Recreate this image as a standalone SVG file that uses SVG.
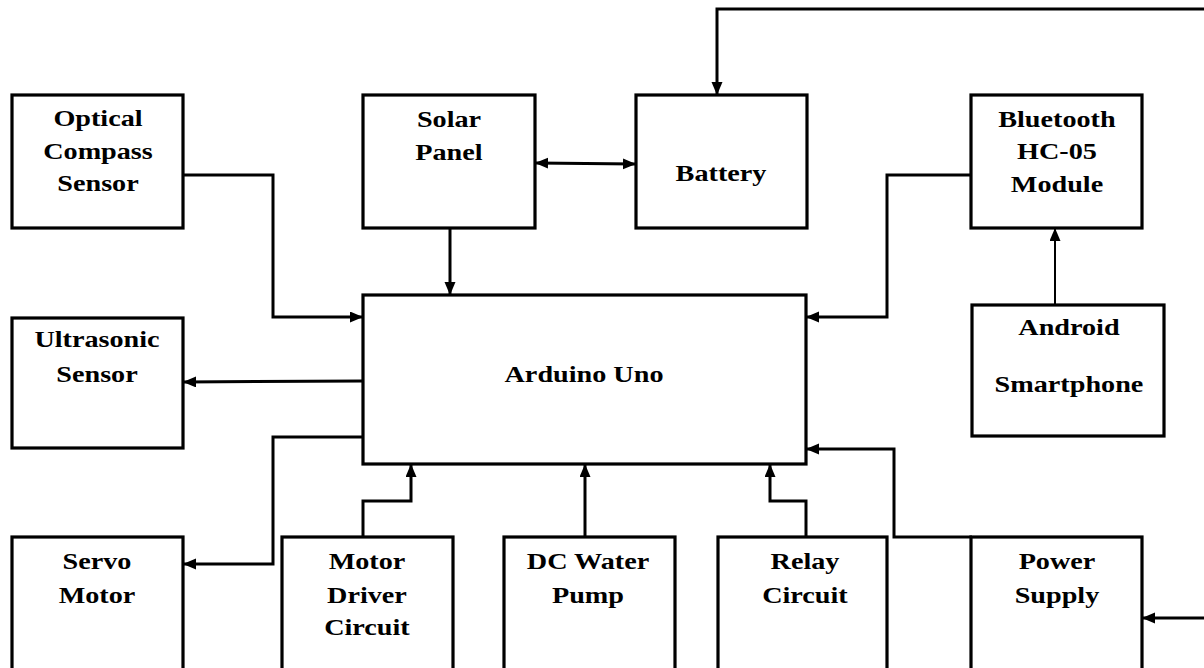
<svg xmlns="http://www.w3.org/2000/svg" width="1204" height="668" viewBox="0 0 1204 668">
<defs>
<style>
.box{fill:#fff;stroke:#000;stroke-width:3.2}
.c{fill:none;stroke:#000;stroke-width:3;marker-end:url(#ah)}
.t{font-family:"Liberation Serif","Times New Roman",serif;font-weight:bold;font-size:23.5px;text-anchor:middle;fill:#000;transform-box:fill-box;transform-origin:center;transform:scaleX(1.2)}
</style>
<marker id="ah" markerUnits="userSpaceOnUse" markerWidth="14" markerHeight="12" refX="12" refY="5.5" orient="auto-start-reverse">
<path d="M0,0 L13,5.5 L0,11 z" fill="#000"/>
</marker>
</defs>
<rect width="1204" height="668" fill="#fff"/>
<g id="connectors">
<path class="c" d="M183,175 H273 V317 H362"/>
<path class="c" d="M450,228 V294"/>
<path class="c" d="M536,163 L635,164" style="marker-start:url(#ah)"/>
<path class="c" d="M1206,9 H717 V94"/>
<path class="c" d="M972,175 H887 V317 H807"/>
<path class="c" d="M1055,305 V229" style="stroke-width:2"/>
<path class="c" d="M363,381 L184,382"/>
<path class="c" d="M363,437 H273 V564 H184"/>
<path class="c" d="M363,537 V501 H411 V465"/>
<path class="c" d="M585,537 V465"/>
<path class="c" d="M806,537 V501 H770 V465"/>
<path class="c" d="M972,537 H894 V449 H807"/>
<path class="c" d="M1206,618 H1143"/>
</g>
<g id="optical"><rect class="box" x="12" y="95" width="171" height="133"/>
<text class="t" x="98" y="126">Optical</text><text class="t" x="98" y="159">Compass</text><text class="t" x="98" y="191">Sensor</text></g>
<g id="solar"><rect class="box" x="363" y="95" width="172" height="133"/>
<text class="t" x="449" y="127">Solar</text><text class="t" x="449" y="160">Panel</text></g>
<g id="battery"><rect class="box" x="636" y="95" width="171" height="133"/>
<text class="t" x="721" y="181">Battery</text></g>
<g id="bluetooth"><rect class="box" x="971" y="95" width="171" height="133"/>
<text class="t" x="1057" y="127">Bluetooth</text><text class="t" x="1057" y="159">HC-05</text><text class="t" x="1057" y="192">Module</text></g>
<g id="arduino"><rect class="box" x="363" y="295" width="443" height="169"/>
<text class="t" x="584" y="382">Arduino Uno</text></g>
<g id="ultrasonic"><rect class="box" x="12" y="318" width="171" height="130"/>
<text class="t" x="97" y="347">Ultrasonic</text><text class="t" x="97" y="382">Sensor</text></g>
<g id="android"><rect class="box" x="972" y="305" width="192" height="131"/>
<text class="t" x="1069" y="335">Android</text><text class="t" x="1069" y="392">Smartphone</text></g>
<g id="servo"><rect class="box" x="12" y="537" width="171" height="145"/>
<text class="t" x="97" y="569">Servo</text><text class="t" x="97" y="603">Motor</text></g>
<g id="motordriver"><rect class="box" x="282" y="537" width="171" height="145"/>
<text class="t" x="367" y="569">Motor</text><text class="t" x="367" y="603">Driver</text><text class="t" x="367" y="635">Circuit</text></g>
<g id="pump"><rect class="box" x="504" y="537" width="171" height="145"/>
<text class="t" x="588" y="569">DC Water</text><text class="t" x="588" y="603">Pump</text></g>
<g id="relay"><rect class="box" x="718" y="537" width="169" height="145"/>
<text class="t" x="805" y="569">Relay</text><text class="t" x="805" y="603">Circuit</text></g>
<g id="power"><rect class="box" x="971" y="537" width="171" height="145"/>
<text class="t" x="1057" y="569">Power</text><text class="t" x="1057" y="603">Supply</text></g>
</svg>
